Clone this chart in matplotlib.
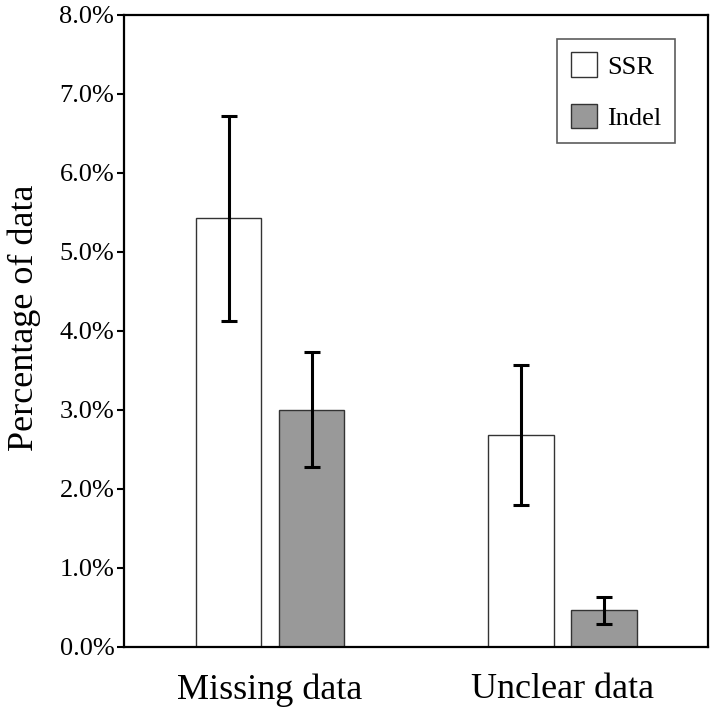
import numpy as np
import matplotlib.pyplot as plt

plt.rcParams['font.family'] = ['Liberation Serif', 'DejaVu Serif']

categories = ["Missing data", "Unclear data"]
ssr = [5.42, 2.68]
ssr_err = [1.30, 0.89]
indel = [3.00, 0.46]
indel_err = [0.73, 0.17]
yticks = [0, 1, 2, 3, 4, 5, 6, 7, 8]

fig = plt.figure(figsize=(7.14, 7.11), dpi=100)
ax = fig.add_axes([124/714, 1-646.7/711, (708.3-124)/714, (646.7-14.5)/711])

x = np.arange(len(categories))
w = 0.225
off = 0.142
err_kw = dict(ecolor='black', elinewidth=2.2, capsize=6, capthick=2.2)

ax.bar(x-off, ssr, w, yerr=ssr_err, color='white', edgecolor='#333333',
       linewidth=1.0, label='SSR', error_kw=err_kw)
ax.bar(x+off, indel, w, yerr=indel_err, color='#999999', edgecolor='#333333',
       linewidth=1.0, label='Indel', error_kw=err_kw)

ax.set_xlim(-0.5, 1.5)
ax.set_ylim(0, 8)
ax.set_yticks(yticks)
ax.set_yticklabels([f"{v:.1f}%" for v in yticks], fontsize=19)
ax.set_xticks(x)
ax.set_xticklabels(categories, fontsize=26)
ax.tick_params(axis='x', length=0, pad=19)
ax.tick_params(axis='y', length=5, width=1.5, pad=2, direction='out')
for s in ax.spines.values():
    s.set_linewidth(1.6)

ax.set_ylabel("Percentage of data", fontsize=26)
ax.yaxis.set_label_coords(-0.142, 0.52)

leg = ax.legend(loc='upper right', bbox_to_anchor=(0.943, 0.961), fontsize=19,
                frameon=True, fancybox=False, edgecolor='#333333',
                handlelength=1.0, handleheight=1.05, handletextpad=0.4,
                labelspacing=0.95, borderpad=0.5, borderaxespad=0)
leg.get_frame().set_linewidth(1.2)

fig.savefig("out.png", dpi=100)
